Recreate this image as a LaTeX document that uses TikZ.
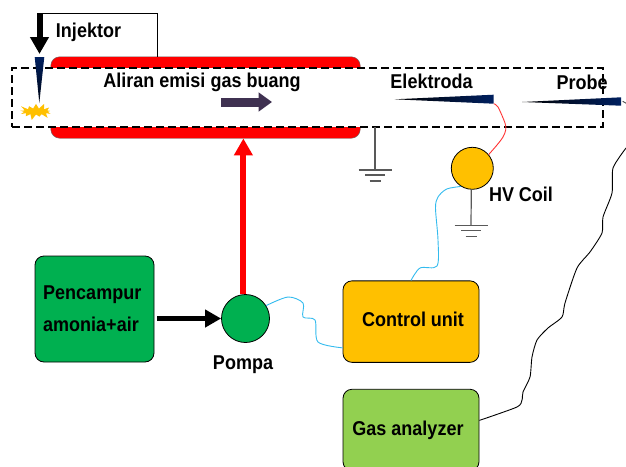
\documentclass[tikz,border=0pt]{standalone}
\usepackage{fontspec}
\setmainfont[FakeStretch=0.9]{Liberation Sans}
\usepackage{xcolor}
\usetikzlibrary{arrows.meta,shapes.symbols}
\definecolor{navyblue}{HTML}{002060}
\definecolor{wireblue}{HTML}{33BBEE}
\definecolor{flowpurple}{HTML}{3F3151}
\definecolor{pumpgreen}{HTML}{00B050}
\definecolor{unitorange}{HTML}{FFC000}
\definecolor{gasgreen}{HTML}{92D050}

\begin{document}
\begin{tikzpicture}[
  x=1pt, y=-1pt,
  lbl/.style={font=\bfseries\fontsize{20}{32}\selectfont, inner sep=0pt},
  box/.style={draw=black, line width=0.8pt, rounded corners=9pt, align=left, minimum width=136pt, minimum height=81.5pt, inner sep=0pt, font=\bfseries\fontsize{20}{32}\selectfont},
  ball/.style={draw=black, line width=0.8pt, circle, inner sep=0pt},
  arr/.style={-{Triangle[length=17pt, width=18pt]}},
  wire/.style={line width=0.9pt},
  gnd/.style={draw=black!65, line width=1.2pt},
  earth/.pic={
    \draw[gnd] (-16.5,0) -- (16.5,0);
    \draw[gnd] (-10,5) -- (10,5);
    \draw[gnd] (-5.5,11) -- (5.5,11);
  }]
  \clip (0,0) rectangle (626,466);
  % duct and measuring zone
  \node[draw=black!60, fill=red, rounded corners=9pt, minimum width=309.5pt, minimum height=81.5pt, inner sep=0pt] (duct) at (205.5,97.5) {};
  \node[draw=black, dash pattern=on 8pt off 4pt, line width=1.2pt, fill=white, minimum width=591pt, minimum height=59pt, inner sep=0pt] (zone) at (307.5,97.5) {};
  \coordinate (injtop) at (39.5,13);
  \draw[line width=0.9pt] (injtop) -| (157,56.7) coordinate (injend);
  \draw[arr, line width=6pt] (injtop) -- (39.5,54) coordinate (injtip);
  \shade[top color=navyblue, bottom color=black!80!navyblue] (34.7,57) -- (44.3,57) -- (39.3,103) -- cycle;
  \node[starburst, starburst points=13, starburst point height=6.5pt, fill=unitorange, minimum width=37pt, minimum height=19pt, inner sep=0pt] (spark) at (36,111.5) {};
  % labels
  \node[lbl] (injlbl) at (88.5,32) {Injektor};
  \node[lbl] (flowlbl) at (202,82) {Aliran emisi gas buang};
  \coordinate (flowa) at (221,102);
  \draw[-{Triangle[length=13.5pt, width=18.5pt]}, flowpurple, line width=9pt] (flowa) -- (272,102) coordinate (flowb);
  \node[lbl] (elklbl) at (431.5,81) {Elektroda};
  \node[lbl] (problbl) at (582,82) {Probe};
  \shade[left color=black, right color=navyblue] (394.7,99.3) -- (493.7,94.7) -- (493.7,103.7) -- cycle;
  \shade[left color=black, right color=navyblue] (522,102) -- (621,97.3) -- (621,105.7) -- cycle;
  \coordinate (elktip) at (493.7,103.7);
  \coordinate (probtip) at (622.7,101.3);
  \draw[wire, black!70] (probtip) -- ++(3.5,2);
  % main components
  \node[box, fill=pumpgreen, minimum width=119pt, minimum height=106pt] (mixer) at (94.5,309) {Pencampur\\amonia+air\hspace*{7pt}};
  \node[ball, fill=pumpgreen, minimum size=48pt] (pump) at (245.5,318.5) {};
  \node[lbl] (pumplbl) at (243,365) {Pompa};
  \node[box, fill=unitorange] (control) at (411,321.6) {\raisebox{4.5pt}{\hspace*{4pt}Control unit}};
  \node[box, fill=gasgreen] (gas) at (411,430) {\raisebox{-1.5pt}{\hspace*{1pt}Gas analyzer\hspace*{7pt}}};
  \node[ball, fill=unitorange, minimum size=42pt] (coil) at (472.3,168.3) {};
  \node[lbl] (coillbl) at (521,194) {HV Coil};
  % connectors
  \draw[arr, red, line width=6pt] (pump.95) -- (pump.95 |- duct.south);
  \draw[-{Triangle[length=16pt, width=17pt]}, line width=5.5pt] ([xshift=3]mixer.east |- pump.west) -- (pump.west);
  \draw[gnd] (375,127) coordinate (gndtop) -- (375,170) coordinate (gndend);
  \pic at (gndend) {earth};
  \draw[gnd] (coil.south) ++(-1,0) -- (471,225.7) coordinate (coilgnd);
  \pic at (coilgnd) {earth};
  \draw[wire, red!80!white] plot[smooth, tension=0.5] coordinates {(elktip) (498,107) (505,123) (505.7,130) (503,137) (497,145) (coil.40)};
  \draw[wire, wireblue] plot[smooth, tension=0.5] coordinates {(coil.238) (446.7,189) (438,197) (435.5,208) (438,240) (437,266) (420,268) (control.north)};
  \draw[wire, wireblue] plot[smooth, tension=0.5] coordinates {(pump.32) (288,297) (303,303) (303,317) (315,320) (318,342) (control.201)};
  \draw[wire, black] plot[smooth, tension=0.4] coordinates {(gas.8) (517,407) (522,400) (523,392) (530,377) (532,357) (537,340) (548,328) (562,317) (565,303) (577,268) (590,252) (602,233) (603,217) (612,193) (613,168) (626,148)};
\end{tikzpicture}
\end{document}
